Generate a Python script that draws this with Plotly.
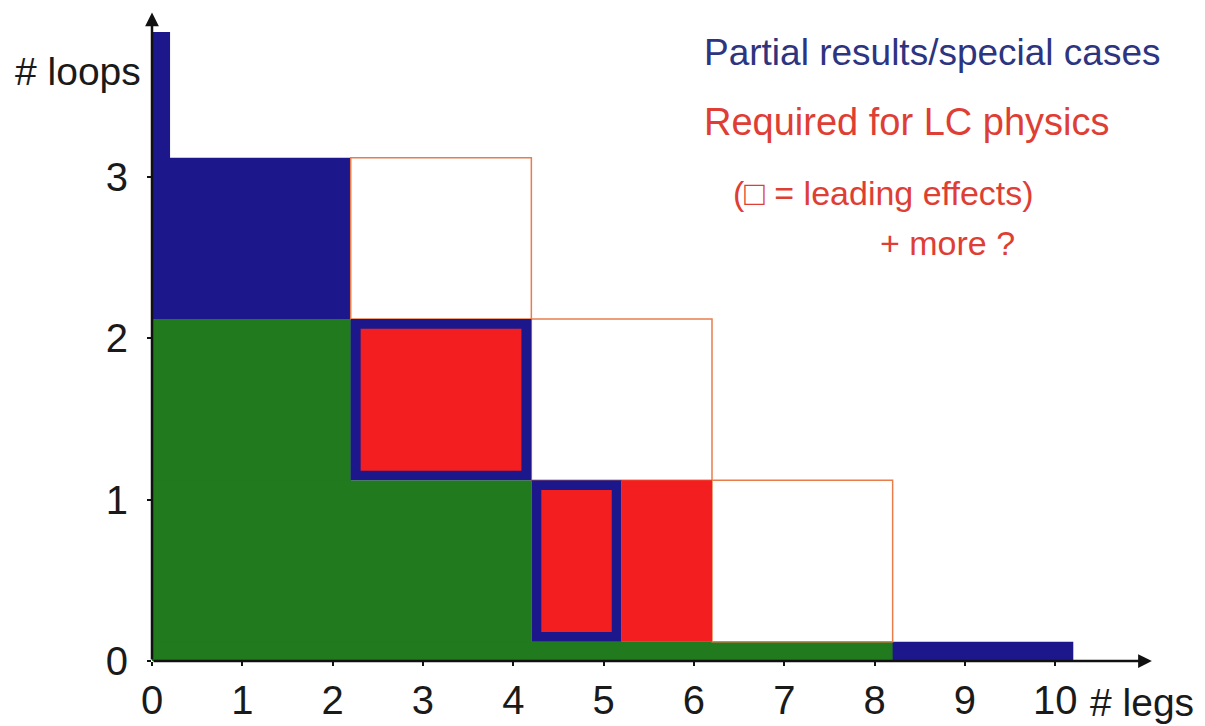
import plotly.graph_objects as go

# ---- data (legs on x, loops on y) ----
legs_ticks = [0, 1, 2, 3, 4, 5, 6, 7, 8, 9, 10]
loops_ticks = [0, 1, 2, 3]

# "Partial results / special cases" (blue) regions
blue_x0 = [0, 0, 0]
blue_x1 = [0.2, 2.2, 10.2]
blue_y0 = [0, 0, 0]
blue_y1 = [3.9, 3.12, 0.12]

# known / complete results (green) staircase
green_x0 = [0, 0, 0]
green_x1 = [2.2, 4.2, 8.2]
green_y0 = [0, 0, 0]
green_y1 = [2.12, 1.12, 0.12]

# required for LC physics, not yet done (open boxes)
open_x0 = [2.2, 4.2, 6.2]
open_x1 = [4.2, 6.2, 8.2]
open_y0 = [2.12, 1.12, 0.12]
open_y1 = [3.12, 2.12, 1.12]

# required (red) with partial results (blue frame)
framed_x0 = [2.2, 4.2]
framed_x1 = [4.2, 5.2]
framed_y0 = [1.12, 0.12]
framed_y1 = [2.12, 1.12]

# required (red), plain
red_x0 = [5.2]
red_x1 = [6.2]
red_y0 = [0.12]
red_y1 = [1.12]

BLUE = "rgb(28,24,140)"
GREEN = "rgb(34,122,30)"
RED = "rgb(242,30,32)"
ORANGE = "rgb(232,125,75)"
TXT_BLUE = "rgb(45,52,128)"
TXT_RED = "rgb(222,62,52)"
FONT = "Liberation Sans, Arial, Helvetica, sans-serif"
FRAME_DX = 0.11
FRAME_DY = 0.06

shapes = []


def rect(x0, x1, y0, y1, fill, line_color=None, line_width=0):
    return dict(type="rect", xref="x", yref="y", x0=x0, x1=x1, y0=y0, y1=y1,
                fillcolor=fill, layer="above",
                line=dict(color=line_color or fill, width=line_width))


for a, b, c, d in zip(blue_x0, blue_x1, blue_y0, blue_y1):
    shapes.append(rect(a, b, c, d, BLUE))
for a, b, c, d in zip(green_x0, green_x1, green_y0, green_y1):
    shapes.append(rect(a, b, c, d, GREEN))
for a, b, c, d in zip(open_x0, open_x1, open_y0, open_y1):
    shapes.append(rect(a, b, c, d, "white", ORANGE, 1.5))
for a, b, c, d in zip(framed_x0, framed_x1, framed_y0, framed_y1):
    shapes.append(rect(a, b, c, d, BLUE))
    shapes.append(rect(a + FRAME_DX, b - FRAME_DX, c + FRAME_DY, d - FRAME_DY, RED))
for a, b, c, d in zip(red_x0, red_x1, red_y0, red_y1):
    shapes.append(rect(a, b, c, d, RED))

fig = go.Figure()
fig.add_trace(go.Scatter(x=[0, 10], y=[0, 3], mode="markers",
                         marker=dict(opacity=0), hoverinfo="skip", showlegend=False))

annotations = [
    # axes with arrows
    dict(x=11.07, y=0, ax=0, ay=0, xref="x", yref="y", axref="x", ayref="y",
         text="", showarrow=True, arrowhead=2, arrowsize=1.1, arrowwidth=2.5,
         arrowcolor="#111"),
    dict(x=0, y=4.02, ax=0, ay=0, xref="x", yref="y", axref="x", ayref="y",
         text="", showarrow=True, arrowhead=2, arrowsize=1.1, arrowwidth=2.5,
         arrowcolor="#111"),
    dict(x=-0.138, y=0.905, xref="paper", yref="paper", text="# loops", showarrow=False,
         xanchor="left", yanchor="middle", font=dict(size=39, color="#1a1a1a", family=FONT)),
    dict(x=0.9286, y=-0.063, xref="paper", yref="paper", text="# legs", showarrow=False,
         xanchor="left", yanchor="middle", font=dict(size=39, color="#1a1a1a", family=FONT)),
    dict(x=6.09, y=3.77, xref="x", yref="y", text="Partial results/special cases",
         showarrow=False, xanchor="left", yanchor="middle",
         font=dict(size=37, color=TXT_BLUE, family=FONT)),
    dict(x=6.09, y=3.34, xref="x", yref="y", text="Required for LC physics",
         showarrow=False, xanchor="left", yanchor="middle",
         font=dict(size=38, color=TXT_RED, family=FONT)),
    dict(x=6.41, y=2.90, xref="x", yref="y", text="(\u25a1 = leading effects)",
         showarrow=False, xanchor="left", yanchor="middle",
         font=dict(size=34, color=TXT_RED, family=FONT)),
    dict(x=8.04, y=2.59, xref="x", yref="y", text="+ more ?",
         showarrow=False, xanchor="left", yanchor="middle",
         font=dict(size=34, color=TXT_RED, family=FONT)),
]

# the page adds an 8px body margin, so the figure is 8px smaller
fig.update_layout(
    width=1197, height=718,
    margin=dict(l=144, r=45, t=2, b=65, pad=0),
    paper_bgcolor="white", plot_bgcolor="white",
    shapes=shapes, annotations=annotations, showlegend=False,
    xaxis=dict(range=[0, 11.16], tickvals=legs_ticks, ticktext=[str(v) for v in legs_ticks],
               showgrid=False, zeroline=False, showline=False, automargin=False,
               ticks="outside", ticklen=4, tickwidth=2, tickcolor="#111",
               tickfont=dict(size=40, color="#1a1a1a", family=FONT),
               ticklabelstandoff=0, fixedrange=True),
    yaxis=dict(range=[0, 4.036], tickvals=loops_ticks, ticktext=[str(v) for v in loops_ticks],
               showgrid=False, zeroline=False, showline=False, automargin=False,
               ticks="outside", ticklen=4, tickwidth=2, tickcolor="#111",
               tickfont=dict(size=40, color="#1a1a1a", family=FONT),
               ticklabelstandoff=11, fixedrange=True),
)

fig.write_html("out.html")
